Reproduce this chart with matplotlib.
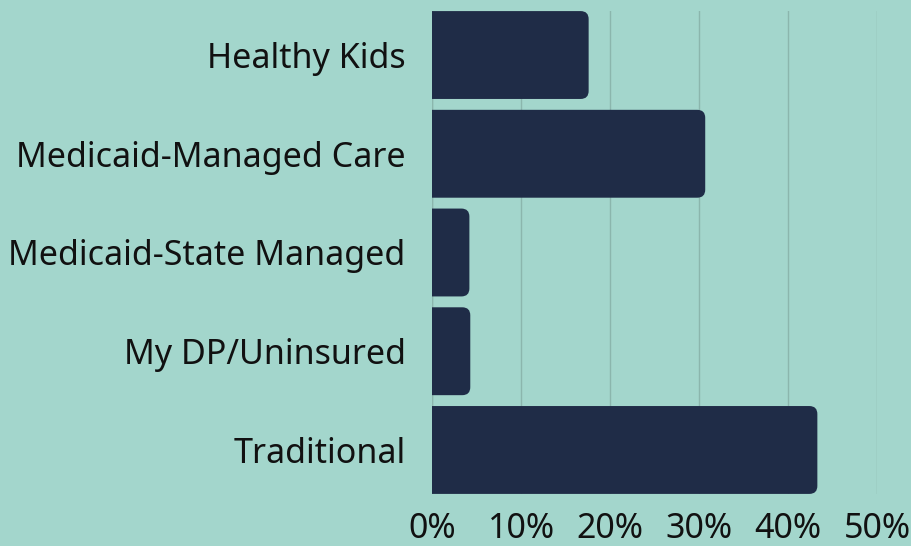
import matplotlib
import matplotlib.pyplot as plt
from matplotlib.patches import FancyBboxPatch

matplotlib.rcParams["font.family"] = ["Noto Sans", "DejaVu Sans"]

categories = [
    "Healthy Kids",
    "Medicaid-Managed Care",
    "Medicaid-State Managed",
    "My DP/Uninsured",
    "Traditional",
]
shares = [17.6, 30.7, 4.2, 4.3, 43.3]
ticks = [0, 10, 20, 30, 40, 50]
tick_labels = ["0%", "10%", "20%", "30%", "40%", "50%"]

bg = "#a3d6cc"
bar_color = "#1f2c47"
grid_color = "#8bb6ad"

fig = plt.figure(figsize=(9.12, 5.46), dpi=100, facecolor=bg)
ax = fig.add_axes([0.4737, 0.0945, 0.4879, 0.8861])
ax.set_facecolor(bg)

ypos = list(range(len(categories)))
bars = ax.barh(ypos, shares, height=0.89, color=bar_color)

# swap the plain bars for ones with rounded right corners
for b in bars:
    x0, y0 = b.get_x(), b.get_y()
    w, h = b.get_width(), b.get_height()
    b.set_visible(False)
    patch = FancyBboxPatch(
        (x0 - 2, y0), w + 2, h,
        boxstyle="round,pad=0,rounding_size=0.9",
        mutation_aspect=0.09,
        facecolor=bar_color, edgecolor="none", zorder=3,
    )
    patch.set_clip_path(ax.patch)
    ax.add_patch(patch)

ax.set_xlim(0, 50)
ax.set_ylim(4.45, -0.45)
ax.set_yticks(ypos)
ax.set_yticklabels(categories)
ax.set_xticks(ticks)
ax.set_xticklabels(tick_labels)

ax.xaxis.grid(True, color=grid_color, linewidth=1.0, zorder=0)
ax.set_axisbelow(True)
for s in ax.spines.values():
    s.set_visible(False)
ax.axvline(0, color=grid_color, linewidth=1.0, zorder=1)

ax.tick_params(axis="both", length=0, colors="#111111")
ax.tick_params(axis="y", labelsize=24.5, pad=19)
ax.tick_params(axis="x", labelsize=24.5, pad=13)

fig.savefig("out.png", dpi=100, facecolor=bg)
